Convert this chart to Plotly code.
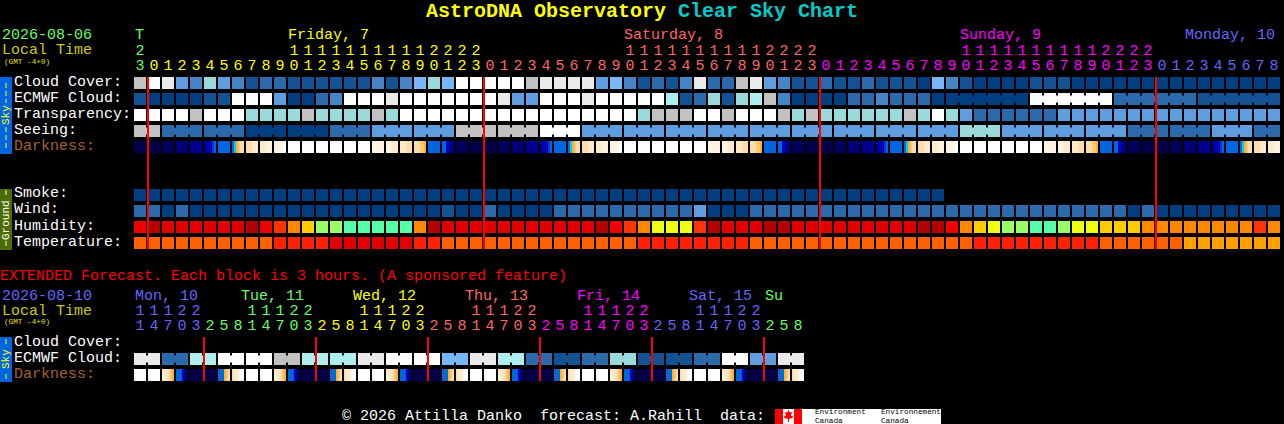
import plotly.graph_objects as go

W = 1284
H = 424
FONT = "Liberation Mono"

# levels: clear -> overcast
CLOUD_COLORS = ["#003F7F", "#135393", "#2B6BAB", "#4585C5", "#5E9EDE", "#77B7F7",
                "#9ADADA", "#AEEEEE", "#C2C2C2", "#EAEAEA", "#FFFFFF"]
HUMID_COLORS = ["#B50000", "#E00000", "#F00000", "#FF3300", "#FF8800", "#FFCC00",
                "#EEFF11", "#99FF66", "#55FFAA"]
TEMP_COLORS = ["#E00000", "#FF2200", "#FF6000", "#FFA000"]
DARK_CODES = "abcdefghijklmno"
DARK_COLORS = ["#000048", "#00005C", "#000078", "#000090", "#0000A8", "#0000C8", "#0040D8",
               "#0066E0", "#00CCFF", "#FFB030", "#FFC870", "#FFDCA8", "#FFEBCC", "#FFF4E4",
               "#FFFFFF"]

CLOUD_COVER = [8, 10, 9, 4, 3, 6, 4, 3, 1, 2,
               2, 1, 1, 1, 1, 1, 1, 3, 1, 3,
               5, 6, 5, 10, 10, 10, 10, 10, 8, 9,
               9, 9, 9, 4, 5, 3, 1, 2, 1, 3,
               9, 2, 2, 8, 9, 4, 3, 1, 1, 2,
               1, 1, 2, 1, 1, 1, 0, 5, 3, 1,
               0, 0, 0, 0, 1, 1, 1, 0, 0, 0,
               0, 0, 0, 0, 0, 0, 0, 0, 0, 0, 0, 0]
ECMWF = [1, 0, 0, 0, 0, 1, 1, 10, 10, 10,
         4, 0, 0, 2, 3, 10, 10, 10, 9, 10,
         10, 10, 10, 10, 10, 10, 9, 4, 4, 10,
         10, 10, 9, 10, 10, 10, 10, 10, 7, 1,
         2, 6, 1, 6, 7, 8, 3, 0, 0, 0,
         0, 2, 2, 3, 2, 2, 2, 0, 0, 0,
         0, 0, 0, 0, 10, 10, 10, 10, 10, 10,
         2, 2, 2, 2, 2, 2, 1, 1, 1, 1, 1, 1]
TRANSPARENCY = [10, 10, 10, 10, 8, 10, 10, 10, 6, 6,
                6, 6, 8, 6, 6, 6, 6, 8, 6, 10,
                10, 10, 10, 10, 10, 10, 10, 10, 10, 10,
                10, 10, 10, 10, 10, 10, 6, 8, 8, 8,
                10, 10, 8, 10, 10, 10, 8, 6, 8, 6,
                6, 6, 6, 6, 6, 8, 6, 10, 6, 4,
                2, 2, 2, 2, 2, 2, 4, 4, 4, 4,
                4, 4, 4, 4, 4, 4, 4, 4, 4, 4, 4, 4]
SEEING = [8, 8, 2, 2, 2, 2, 2, 2, 0, 0,
          0, 0, 0, 0, 2, 2, 2, 4, 4, 4,
          4, 4, 4, 8, 8, 8, 8, 8, 8, 10,
          10, 10, 4, 4, 4, 4, 4, 4, 4, 4,
          4, 4, 4, 4, 4, 4, 4, 4, 4, 4,
          4, 4, 4, 4, 4, 4, 4, 4, 4, 6,
          6, 6, 4, 4, 4, 4, 4, 4, 4, 4,
          4, 2, 2, 2, 2, 2, 2, 4, 4, 4, 2, 2]
SMOKE = [0, 0, 0, 0, 0, 0, 0, 0, 0, 0,
         0, 0, 0, 0, 0, 0, 0, 0, 0, 0,
         0, 0, 0, 0, 0, 0, 0, 0, 0, 0,
         0, 0, 0, 0, 0, 0, 0, 0, 0, 0,
         0, 0, 0, 0, 0, 0, 0, 0, 0, 0,
         0, 0, 0, 0, 0, 0, 0, 0]
WIND = [2, 2, 0, 2, 0, 0, 0, 0, 0, 0,
        0, 0, 0, 0, 0, 0, 0, 0, 0, 0,
        0, 0, 1, 0, 0, 2, 0, 0, 0, 0,
        2, 2, 2, 2, 2, 2, 2, 2, 2, 2,
        4, 0, 0, 0, 2, 2, 2, 2, 2, 2,
        2, 2, 2, 2, 2, 2, 2, 2, 2, 2,
        2, 2, 2, 2, 2, 2, 2, 2, 2, 2,
        2, 0, 2, 0, 0, 0, 0, 0, 0, 0, 0, 0]
HUMIDITY = [2, 0, 1, 1, 1, 1, 1, 1, 0, 2,
            3, 4, 5, 7, 7, 8, 8, 8, 8, 8,
            4, 0, 1, 1, 1, 1, 1, 1, 1, 1,
            1, 1, 1, 0, 2, 3, 4, 6, 6, 6,
            3, 0, 1, 1, 1, 0, 0, 1, 1, 1,
            1, 1, 1, 1, 1, 1, 0, 0, 2, 4,
            5, 6, 7, 7, 8, 8, 7, 6, 6, 5,
            5, 5, 4, 4, 4, 4, 4, 4, 4, 4, 3, 4]
TEMPERATURE = [2, 2, 2, 2, 2, 2, 2, 2, 2, 2,
               1, 1, 1, 1, 0, 0, 0, 0, 0, 0,
               1, 1, 2, 2, 2, 2, 2, 2, 2, 2,
               2, 2, 2, 2, 2, 2, 1, 1, 1, 1,
               1, 1, 1, 1, 2, 2, 2, 2, 2, 2,
               2, 2, 2, 2, 2, 2, 2, 2, 2, 2,
               1, 1, 1, 1, 1, 1, 1, 1, 1, 2,
               2, 2, 2, 2, 2, 3, 3, 3, 3, 3, 3, 3]
# each block is six 2px samples left to right, one letter means the whole block
DARKNESS = ["a", "a", "b", "c", "d", "deefgh", "h", "hijkll", "lllmmm", "mmmnnn",
            "nnnnoo", "o", "o", "o", "o", "o", "o", "n", "nnnmmm", "mmmlll",
            "lllkkj", "h", "hhfedc", "b", "a", "a", "b", "c", "d", "deefgh",
            "h", "hijkll", "lllmmm", "mmmnnn", "nnnnoo", "o", "o", "o", "o", "o",
            "o", "n", "nnnmmm", "mmmlll", "lllkkj", "h", "hhfedc", "b", "a", "a",
            "b", "c", "d", "deefgh", "h", "hijkll", "lllmmm", "mmmnnn", "nnnnoo", "o",
            "o", "o", "o", "o", "o", "n", "nnnmmm", "mmmlll", "lllkkj", "h",
            "hhfedc", "b", "a", "a", "b", "c", "d", "deefgh", "h", "hijkll",
            "lllmmm", "mmmnnn"]

EXT_ECMWF = [9, 9, 2, 2, 7, 7, 10, 10, 10, 10, 8, 8, 7, 7, 7, 7,
             9, 9, 10, 10, 10, 10, 5, 5, 9, 9, 7, 7, 2, 2, 1, 1,
             2, 2, 6, 6, 1, 1, 1, 1, 2, 2, 10, 10, 4, 4, 9, 9]
EXT_DARKNESS = ["o", "nooooo", "nmmlkj", "hhhfcb", "a", "a", "hhhjkl", "lmmnoo",
                "o", "nooooo", "nmmlkj", "hhhfcb", "a", "a", "hhhjkl", "lmmnoo",
                "o", "nooooo", "nmmlkj", "hhhfcb", "a", "a", "hhhjkl", "lmmnoo",
                "o", "nooooo", "nmmlkj", "hhhfcb", "a", "a", "hhhjkl", "lmmnoo",
                "o", "nooooo", "nmmlkj", "hhhfcb", "a", "a", "hhhjkl", "lmmnoo",
                "o", "nooooo", "nmmlkj", "hhhfcb", "a", "a", "hhhjkl", "lmmnoo"]

UNITS = ["3", "0", "1", "2", "3", "4", "5", "6", "7", "8", "9", "0", "1", "2", "3", "4", "5", "6", "7", "8", "9", "0", "1", "2", "3",
         "0", "1", "2", "3", "4", "5", "6", "7", "8", "9", "0", "1", "2", "3", "4", "5", "6", "7", "8", "9", "0", "1", "2", "3",
         "0", "1", "2", "3", "4", "5", "6", "7", "8", "9", "0", "1", "2", "3", "4", "5", "6", "7", "8", "9", "0", "1", "2", "3",
         "0", "1", "2", "3", "4", "5", "6", "7", "8"]
TENS = ["2", "", "", "", "", "", "", "", "", "", "", "1", "1", "1", "1", "1", "1", "1", "1", "1", "1", "2", "2", "2", "2",
        "", "", "", "", "", "", "", "", "", "", "1", "1", "1", "1", "1", "1", "1", "1", "1", "1", "2", "2", "2", "2",
        "", "", "", "", "", "", "", "", "", "", "1", "1", "1", "1", "1", "1", "1", "1", "1", "1", "2", "2", "2", "2",
        "", "", "", "", "", "", "", "", ""]
DAY_SPANS = [("#66FF66", 1), ("#FFFF00", 24), ("#FF6666", 24), ("#FF00FF", 24), ("#6666FF", 9)]
DAY_LABELS = [("T", 135, "#66FF66"), ("Friday, 7", 288, "#FFFF00"), ("Saturday, 8", 624, "#FF6666"),
              ("Sunday, 9", 960, "#FF00FF"), ("Monday, 10", 1185, "#6666FF")]

EXT_UNITS = ["1", "4", "7", "0", "3", "2", "5", "8", "1", "4", "7", "0", "3", "2", "5", "8",
             "1", "4", "7", "0", "3", "2", "5", "8", "1", "4", "7", "0", "3", "2", "5", "8",
             "1", "4", "7", "0", "3", "2", "5", "8", "1", "4", "7", "0", "3", "2", "5", "8"]
EXT_TENS = ["1", "1", "1", "2", "2", "", "", "", "1", "1", "1", "2", "2", "", "", "",
            "1", "1", "1", "2", "2", "", "", "", "1", "1", "1", "2", "2", "", "", "",
            "1", "1", "1", "2", "2", "", "", "", "1", "1", "1", "2", "2", "", "", ""]
EXT_DAY_SPANS = [("#6666FF", 5), ("#66FF66", 8), ("#FFFF00", 8), ("#FF6666", 8),
                 ("#FF00FF", 8), ("#6666FF", 8), ("#66FF66", 3)]
EXT_DAY_LABELS = [("Mon, 10", 135, "#6666FF"), ("Tue, 11", 241, "#66FF66"), ("Wed, 12", 353, "#FFFF00"),
                  ("Thu, 13", 465, "#FF6666"), ("Fri, 14", 577, "#FF00FF"), ("Sat, 15", 689, "#6666FF"),
                  ("Su", 765, "#66FF66")]

MIDNIGHTS = [1, 25, 49, 73]
EXT_NOONS = [5, 13, 21, 29, 37, 45]

# palette shared by every heatmap
PALETTE = CLOUD_COLORS + HUMID_COLORS + TEMP_COLORS + DARK_COLORS
HUMID_BASE = len(CLOUD_COLORS)
TEMP_BASE = HUMID_BASE + len(HUMID_COLORS)
DARK_BASE = TEMP_BASE + len(TEMP_COLORS)
n = len(PALETTE)
scale = []
for k, c in enumerate(PALETTE):
    scale.append([k / n, c])
    scale.append([(k + 1) / n, c])


def pad(vals, size=82, base=0):
    out = [v + base for v in vals]
    return out + [None] * (size - len(out))


def dark_samples(blocks):
    out = []
    for b in blocks:
        s = b * 6 if len(b) == 1 else b
        out += [DARK_BASE + DARK_CODES.index(ch) for ch in s] + [None]
    return out


def px(x):
    return x / W


def py(y):
    return 1 - y / H


def heat(z, y, x=None, gap=2, **kw):
    return go.Heatmap(z=z, y=y, x=x, xgap=gap, ygap=4, zmin=-0.5, zmax=n - 0.5, colorscale=scale,
                      showscale=False, hoverinfo="skip", **kw)


fig = go.Figure()

# rows 5 and 6 are the empty band between sky and ground
main_rows = [pad(CLOUD_COVER), pad(ECMWF), pad(TRANSPARENCY), pad(SEEING), pad([]), pad([]), pad([]),
             pad(SMOKE), pad(WIND), pad(HUMIDITY, base=HUMID_BASE), pad(TEMPERATURE, base=TEMP_BASE)]
fig.add_trace(heat(main_rows, list(range(11)), list(range(82))))
fig.add_trace(go.Heatmap(z=[dark_samples(DARKNESS)], y0=4, dy=1, x0=2 / 14 - 0.5, dx=2 / 14, ygap=4,
                         zmin=-0.5, zmax=n - 0.5, colorscale=scale, showscale=False, hoverinfo="skip"))
ext_rows = [pad([], 48), pad(EXT_ECMWF, 48)]
fig.add_trace(heat(ext_rows, [0, 1], list(range(48)), yaxis="y2"))
fig.add_trace(go.Heatmap(z=[dark_samples(EXT_DARKNESS)], y0=2, dy=1, x0=2 / 14 - 0.5, dx=2 / 14, ygap=4,
                         zmin=-0.5, zmax=n - 0.5, colorscale=scale, showscale=False, hoverinfo="skip",
                         yaxis="y2"))


def joins(vals, row, starts, yaxis="y"):
    # the small bridges that tie merged forecast blocks together
    by_color = {}
    for s, e in starts:
        for i in range(s, e - 1):
            by_color.setdefault(vals[i], []).append(i)
    for level, cols in by_color.items():
        xs, ys = [], []
        for i in cols:
            xs += [i + 0.5, i + 0.5, None]
            ys += [row - 0.22, row + 0.22, None]
        fig.add_trace(go.Scatter(x=xs, y=ys, mode="lines", yaxis=yaxis, hoverinfo="skip", showlegend=False,
                                 line=dict(color=CLOUD_COLORS[level], width=2)))


joins(SEEING, 3, [(0, 2)] + [(i, min(i + 3, 82)) for i in range(2, 82, 3)])
joins(ECMWF, 1, [(i, min(i + 6, 82)) for i in range(58, 82, 6)])
joins(EXT_ECMWF, 1, [(i, i + 2) for i in range(0, 48, 2)], "y2")


def header(units, tens, spans, yaxis):
    start = 0
    for color, count in spans:
        cols = list(range(start, start + count))
        for row, labels in ((-1.06, units), (-2.0, tens)):
            fig.add_trace(go.Scatter(x=cols, y=[row] * count, text=labels[start:start + count], mode="text",
                                     yaxis=yaxis, hoverinfo="skip", showlegend=False,
                                     textfont=dict(family=FONT, size=15, color=color)))
        start += count


header(UNITS, TENS, DAY_SPANS, "y")
header(EXT_UNITS, EXT_TENS, EXT_DAY_SPANS, "y2")

shapes = []
for m in MIDNIGHTS:
    shapes.append(dict(type="line", xref="x", yref="y", x0=m - 0.5 + 1 / 14, x1=m - 0.5 + 1 / 14, y0=-0.375, y1=10.375,
                       line=dict(color="#FF0000", width=2)))
for m in EXT_NOONS:
    shapes.append(dict(type="line", xref="x", yref="y2", x0=m - 0.5 + 1 / 14, x1=m - 0.5 + 1 / 14, y0=-0.375, y1=2.375,
                       line=dict(color="#FF0000", width=2)))


def box(x0, y0, x1, y1, color):
    shapes.append(dict(type="rect", xref="paper", yref="paper", x0=px(x0), x1=px(x1), y0=py(y0), y1=py(y1),
                       fillcolor=color, line=dict(width=0), layer="below"))


def dash(y0, y1, color):
    shapes.append(dict(type="line", xref="paper", yref="paper", x0=px(6), x1=px(6), y0=py(y0), y1=py(y1),
                       line=dict(color=color, width=1, dash="5px,3px")))


box(0, 77, 12, 154, "#0066E0")
dash(83, 103, "#FFFF00")
dash(127, 151, "#FFFF00")
box(0, 189, 12, 250, "#4D6B00")
dash(190, 198, "#FFFFFF")
dash(241, 248, "#FFFFFF")
box(0, 337, 12, 382, "#0066E0")
dash(339, 346, "#FFFF00")
dash(374, 381, "#FFFF00")

# environment canada logo
box(775, 409, 941, 424, "#FFFFFF")
box(775, 409, 783, 424, "#FF0000")
box(794, 409, 802, 424, "#FF0000")
leaf = [(788.5, 410), (790, 412.5), (792, 412), (791, 416), (793, 415.5), (792.5, 418), (789, 419),
        (789, 422), (788, 422), (788, 419), (784.5, 418), (784, 415.5), (786, 416), (785, 412), (787, 412.5)]
shapes.append(dict(type="path", xref="paper", yref="paper", fillcolor="#FF0000", line=dict(width=0),
                   path="M" + " L".join(f"{px(a):.5f},{py(b):.5f}" for a, b in leaf) + " Z"))

ann = []


def label(text, x, y, color="#FFFFFF", size=15, family=FONT, anchor="left", angle=0):
    ann.append(dict(text=text, x=px(x), y=py(y), xref="paper", yref="paper", showarrow=False, xanchor=anchor,
                    yanchor="middle", borderpad=0, borderwidth=0, textangle=angle,
                    font=dict(family=family, size=size, color=color)))


label("<b><span style='color:#FFFF00'>AstroDNA Observatory</span> <span style='color:#00CCCC'>Clear Sky Chart</span></b>",
      642, 12, size=20, anchor="center")
label("2026-08-06", 2, 36, "#66FF66")
label("Local Time", 2, 51, "#CCCC00")
label("(GMT -4+0)", 4, 62, "#E0E000", size=7.7)
for text, x, color in DAY_LABELS:
    label(text, x, 36, color)
for text, y in (("Cloud Cover:", 82), ("ECMWF Cloud:", 98), ("Transparency:", 114), ("Seeing:", 130),
                ("Smoke:", 194), ("Wind:", 210), ("Humidity:", 226), ("Temperature:", 242),
                ("Cloud Cover:", 342), ("ECMWF Cloud:", 358)):
    label(text, 14, y)
label("Darkness:", 14, 146, "#A8602C")
label("Darkness:", 14, 374, "#A8602C")
label("Sky", 6, 115, "#FFFF00", size=11, anchor="center", angle=-90)
label("Ground", 6, 220, "#FFFFFF", size=11, anchor="center", angle=-90)
label("Sky", 6, 359, "#FFFF00", size=11, anchor="center", angle=-90)

label("EXTENDED Forecast. Each block is 3 hours. (A sponsored feature)", 0, 276, "#FF0000")
label("2026-08-10", 2, 296, "#6666FF")
label("Local Time", 2, 311, "#CCCC00")
label("(GMT -4+0)", 4, 322, "#E0E000", size=7.7)
for text, x, color in EXT_DAY_LABELS:
    label(text, x, 296, color)
label("© 2026 Attilla Danko  forecast: A.Rahill  data:", 342, 416)
label("Environment", 815, 412, "#000000", size=7.7)
label("Canada", 815, 420.5, "#000000", size=7.7)
label("Environnement", 881, 412, "#000000", size=7.7)
label("Canada", 881, 420.5, "#000000", size=7.7)

hidden = dict(showgrid=False, zeroline=False, showticklabels=False, ticks="", showline=False, fixedrange=True)
fig.update_layout(
    width=W, height=H, autosize=False, margin=dict(l=0, r=0, t=0, b=0),
    paper_bgcolor="#000000", plot_bgcolor="#000000", showlegend=False,
    xaxis=dict(range=[-133 / 14 - 0.5, (W - 133) / 14 - 0.5], domain=[0, 1], **hidden),
    yaxis=dict(range=[(H - 75) / 16 - 0.5, -75 / 16 - 0.5], domain=[0, 1], **hidden),
    yaxis2=dict(range=[(H - 335) / 16 - 0.5, -335 / 16 - 0.5], domain=[0, 1], overlaying="y", **hidden),
    shapes=shapes, annotations=ann,
)

fig.write_html("out.html", config={"displayModeBar": False},
               post_script="document.body.style.margin='0';document.body.style.background='#000';document.body.style.overflow='hidden';")
